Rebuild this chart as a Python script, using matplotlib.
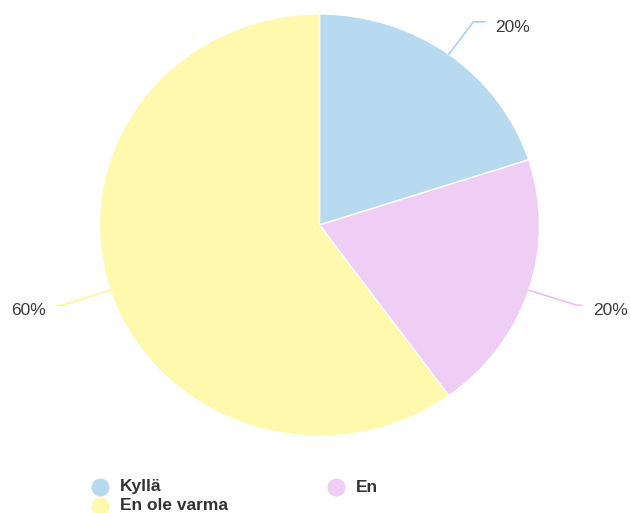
import numpy as np
import matplotlib
matplotlib.use("Agg")
import matplotlib.pyplot as plt
from matplotlib.lines import Line2D

categories = ["Kyllä", "En", "En ole varma"]
values = [20, 20, 60]
labels = ["20%", "20%", "60%"]
colors = ["#b8daf1", "#efcdf5", "#fff9ad"]
line_colors = ["#a9d1ee", "#eabff3", "#fff49a"]
leader_r = [1.19, 1.23, 1.23]
leader_tick = [0.05, 0.022, 0.022]

plt.rcParams['font.family'] = ['Liberation Sans', 'DejaVu Sans']

W, H = 630, 513
fig = plt.figure(figsize=(W / 100, H / 100), dpi=100)
ax = fig.add_axes([0, 0, 1, 1])

cx, cy = 319.5, 225.0   # pixel centre (from top)
rx, ry = 220.0, 211.0   # pixel radii

wedges, _ = ax.pie(values, colors=colors, startangle=90, counterclock=False,
                   radius=1.0, center=(0, 0), frame=True,
                   wedgeprops=dict(edgecolor='white', linewidth=1.0))
ax.set_aspect('auto')
ax.set_xlim(-cx / rx, (W - cx) / rx)
ax.set_ylim(-(H - cy) / ry, cy / ry)
ax.axis('off')

for w, lab, lc, lr, lt in zip(wedges, labels, line_colors, leader_r, leader_tick):
    mid = np.deg2rad((w.theta1 + w.theta2) / 2)
    x0, y0 = np.cos(mid) * 1.0, np.sin(mid) * 1.0
    x1, y1 = np.cos(mid) * lr, np.sin(mid) * lr
    side = 1 if np.cos(mid) >= 0 else -1
    x2 = x1 + side * lt
    ax.plot([x0, x1, x2], [y0, y1, y1], color=lc, lw=1.2,
            solid_capstyle='round', solid_joinstyle='round')
    ax.annotate(lab, xy=(x2, y1), xytext=(side * 11, -5.5), textcoords='offset pixels',
                ha='left' if side > 0 else 'right', va='center',
                fontsize=12.5, color='#3a3a3a')

# legend
leg_pos = [(100, 487), (336, 487), (100, 506)]
for (px, py), cat, col in zip(leg_pos, categories, colors):
    fig.add_artist(Line2D([px / W], [1 - py / H], marker='o', markersize=12,
                          markerfacecolor=col, markeredgecolor=col, linestyle='None',
                          transform=fig.transFigure))
    fig.text((px + 20) / W, 1 - py / H, cat, ha='left', va='center',
             fontsize=12.5, fontweight='bold', color='#333333')

fig.savefig("out.png", dpi=100)
